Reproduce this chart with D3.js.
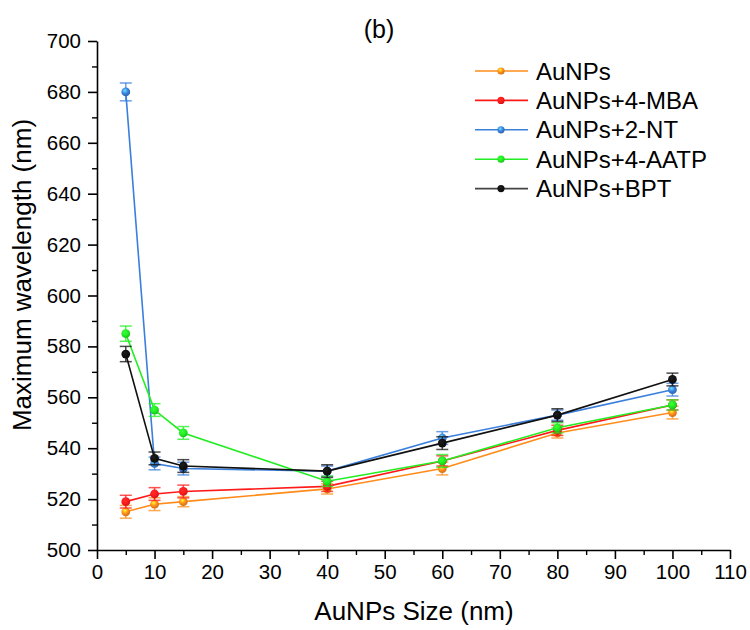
<!doctype html>
<html lang="en">
<head>
  <meta charset="utf-8">
  <title>Maximum wavelength vs AuNPs size</title>
  <style>
    body { margin: 0; background: #fff; }
    svg text { font-family: "Liberation Sans", Arial, sans-serif; fill: #000; }
    .axis path, .axis line { stroke: #000; }
  </style>
</head>
<body>
<div id="chart"></div>

<script src="https://cdnjs.cloudflare.com/ajax/libs/d3/7.8.5/d3.min.js"></script>
<script>

// data
const sizes = [5, 10, 15, 40, 60, 80, 100]

const seriesNames = ["AuNPs", "AuNPs+4-MBA", "AuNPs+2-NT", "AuNPs+4-AATP", "AuNPs+BPT"]
const seriesColors = ["#ff8c1a", "#ff1a1a", "#3a7fdc", "#22ee22", "#111111"]

const auNPs     = [515, 518, 519, 524, 532, 546, 554]
const mba       = [519, 522, 523, 525, 535, 547, 557]
const nt        = [680, 534, 532, 531, 544, 553, 563]
const aatp      = [585, 555, 546, 527, 535, 548, 557]
const bpt       = [577, 536, 533, 531, 542, 553, 567]

const errAuNPs  = [2.5, 2.5, 2, 2, 2.5, 2, 2.5]
const errMba    = [2.5, 2.5, 2.5, 2, 2, 2, 2]
const errNt     = [3.5, 2.5, 2.5, 2, 2.5, 2, 2.5]
const errAatp   = [3, 2.5, 2.5, 2, 2.5, 2, 2]
const errBpt    = [3, 2.5, 2.5, 2.5, 2.5, 2.5, 2.5]

const seriesValues = [auNPs, mba, nt, aatp, bpt]
const seriesErrors = [errAuNPs, errMba, errNt, errAatp, errBpt]

const xTicks = d3.range(0, 111, 10)
const yTicks = d3.range(500, 701, 20)

const w = 750, h = 630
const margin = { top: 41, right: 20, bottom: 80, left: 97 }

const svg = d3.select("#chart").append("svg")
  .attr("width", w)
  .attr("height", h)

const x = d3.scaleLinear().domain([0, 110]).range([margin.left, 730])
const y = d3.scaleLinear().domain([500, 700]).range([550, margin.top])

// gradient for the shiny markers
const defs = svg.append("defs")
seriesColors.forEach((c, i) => {
  const g = defs.append("radialGradient")
    .attr("id", "ball" + i)
    .attr("cx", "40%").attr("cy", "35%").attr("r", "65%")
  g.append("stop").attr("offset", "0%").attr("stop-color", d3.color(c).brighter(1.6))
  g.append("stop").attr("offset", "55%").attr("stop-color", c)
  g.append("stop").attr("offset", "100%").attr("stop-color", d3.color(c).darker(0.6))
})

// minor ticks
svg.append("g")
  .attr("class", "axis")
  .attr("transform", "translate(0,550)")
  .call(d3.axisBottom(x).tickValues(d3.range(5, 110, 10)).tickSize(5).tickFormat(""))
  .call(g => g.select(".domain").remove())
  .call(g => g.selectAll("line").attr("stroke-width", 1.4))

svg.append("g")
  .attr("class", "axis")
  .attr("transform", "translate(97,0)")
  .call(d3.axisLeft(y).tickValues(d3.range(510, 700, 20)).tickSize(5).tickFormat(""))
  .call(g => g.select(".domain").remove())
  .call(g => g.selectAll("line").attr("stroke-width", 1.4))

// major axes
svg.append("g")
  .attr("class", "axis")
  .attr("transform", "translate(0,550)")
  .call(d3.axisBottom(x).tickValues(xTicks).tickSize(9).tickSizeOuter(0).tickPadding(5))
  .call(g => g.selectAll("path, line").attr("stroke-width", 1.6))
  .call(g => g.selectAll("text").style("font-size", "20.5px"))

svg.append("g")
  .attr("class", "axis")
  .attr("transform", "translate(97,0)")
  .call(d3.axisLeft(y).tickValues(yTicks).tickSize(9).tickSizeOuter(0).tickPadding(7))
  .call(g => g.selectAll("path, line").attr("stroke-width", 1.6))
  .call(g => g.selectAll("text").style("font-size", "20.5px"))

// axis titles
svg.append("text")
  .attr("x", 414).attr("y", 620)
  .attr("text-anchor", "middle")
  .style("font-size", "26px")
  .text("AuNPs Size (nm)")

svg.append("text")
  .attr("transform", "translate(31,275) rotate(-90)")
  .attr("text-anchor", "middle")
  .style("font-size", "26px")
  .text("Maximum wavelength (nm)")

svg.append("text")
  .attr("x", 379).attr("y", 38)
  .attr("text-anchor", "middle")
  .style("font-size", "25px")
  .text("(b)")

// series
const line = d3.line().x(d => x(d[0])).y(d => y(d[1]))

seriesValues.forEach((vals, i) => {
  const pts = sizes.map((s, j) => [s, vals[j], seriesErrors[i][j]])
  const c = seriesColors[i]
  const g = svg.append("g")

  g.append("path")
    .datum(pts)
    .attr("d", line)
    .attr("fill", "none")
    .attr("stroke", c)
    .attr("stroke-width", 1.6)

  const eb = g.selectAll(".err").data(pts).join("g")
    .attr("stroke", c)
    .attr("stroke-opacity", 0.75)
    .attr("stroke-width", 1.5)
  eb.append("line")
    .attr("x1", d => x(d[0])).attr("x2", d => x(d[0]))
    .attr("y1", d => y(d[1] - d[2])).attr("y2", d => y(d[1] + d[2]))
  eb.append("line")
    .attr("x1", d => x(d[0]) - 6).attr("x2", d => x(d[0]) + 6)
    .attr("y1", d => y(d[1] + d[2])).attr("y2", d => y(d[1] + d[2]))
  eb.append("line")
    .attr("x1", d => x(d[0]) - 6).attr("x2", d => x(d[0]) + 6)
    .attr("y1", d => y(d[1] - d[2])).attr("y2", d => y(d[1] - d[2]))

  g.selectAll("circle").data(pts).join("circle")
    .attr("cx", d => x(d[0]))
    .attr("cy", d => y(d[1]))
    .attr("r", 4.4)
    .attr("fill", "url(#ball" + i + ")")
})

// legend
const legend = svg.append("g").attr("transform", "translate(475,71)")
seriesNames.forEach((name, i) => {
  const row = legend.append("g").attr("transform", "translate(0," + i * 29.4 + ")")
  row.append("line")
    .attr("x1", 0).attr("x2", 53)
    .attr("stroke", i == 4 ? "#444" : seriesColors[i])
    .attr("stroke-width", 1.6)
  row.append("circle")
    .attr("cx", 26).attr("r", 3.6)
    .attr("fill", "url(#ball" + i + ")")
  row.append("text")
    .attr("x", 61).attr("y", 8.5)
    .style("font-size", "24px")
    .text(name)
})

</script>
</body>
</html>
